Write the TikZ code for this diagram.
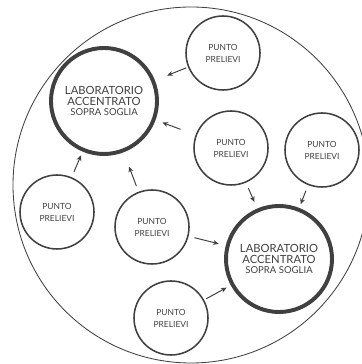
\documentclass[tikz,border=0pt]{standalone}
\usepackage{fontspec}
\setmainfont{Lato}
\usepackage{tikz}
\usetikzlibrary{arrows.meta}

\definecolor{ink}{gray}{0.25}

\begin{document}
\begin{tikzpicture}[
    punto/.style={circle, draw=ink, line width=1.1pt, minimum size=1.85cm, inner sep=0pt,
      align=center, text=ink, font=\fontsize{6}{8.5}\selectfont},
    lab/.style={circle, draw=ink, line width=2.8pt, minimum size=2.65cm, inner sep=0pt,
      align=center, text=ink, font=\fontsize{8}{7.8}\selectfont},
    flow/.style={draw=ink, line width=0.7pt, -{Stealth[length=4pt,width=3.5pt]},
      shorten <=0.15cm, shorten >=0.18cm}
  ]
  % ----- Frame: keep the page at the reference size -----
  \useasboundingbox (0, 0) rectangle (9.025, 9.1);

  % Outer boundary (runs a little past the right edge)
  \draw[ink, line width=0.6pt] (4.775, 4.475) circle (4.45);

  % ----- Laboratories -----
  \node[lab] (lab1) at (2.6, 6.575)
    {LABORATORIO\\ACCENTRATO\\{\fontsize{6.8}{7.8}\selectfont SOPRA SOGLIA}};
  \node[lab] (lab2) at (6.975, 2.625)
    {LABORATORIO\\ACCENTRATO\\{\fontsize{6.8}{7.8}\selectfont SOPRA SOGLIA}};

  % ----- Collection points -----
  \node[punto] (p1) at (5.575, 7.775) {PUNTO\\PRELIEVI};
  \node[punto] (p2) at (5.775, 5.4)   {PUNTO\\PRELIEVI};
  \node[punto] (p3) at (8.05, 5.35)   {PUNTO\\PRELIEVI};
  \node[punto] (p4) at (1.425, 3.8)   {PUNTO\\PRELIEVI};
  \node[punto] (p5) at (3.8, 3.425)   {PUNTO\\PRELIEVI};
  \node[punto] (p6) at (4.275, 1.15)  {PUNTO\\PRELIEVI};

  % ----- Samples sent to the laboratories -----
  \draw[flow, shorten <=0.05cm, shorten >=0.33cm] (p1) -- (lab1);
  \draw[flow, shorten <=0.4cm] (p2) -- (lab1);
  \draw[flow, shorten >=0.1cm] (p4) -- (lab1);
  \draw[flow, shorten >=0.38cm] (p5) -- (lab1);
  \draw[flow] (p2) -- (lab2);
  \draw[flow, shorten >=0.1cm] (p3) -- (lab2);
  \draw[flow] (p5) -- (lab2);
  \draw[flow, shorten <=0.06cm, shorten >=0.12cm] (p6) -- (lab2);
\end{tikzpicture}
\end{document}
